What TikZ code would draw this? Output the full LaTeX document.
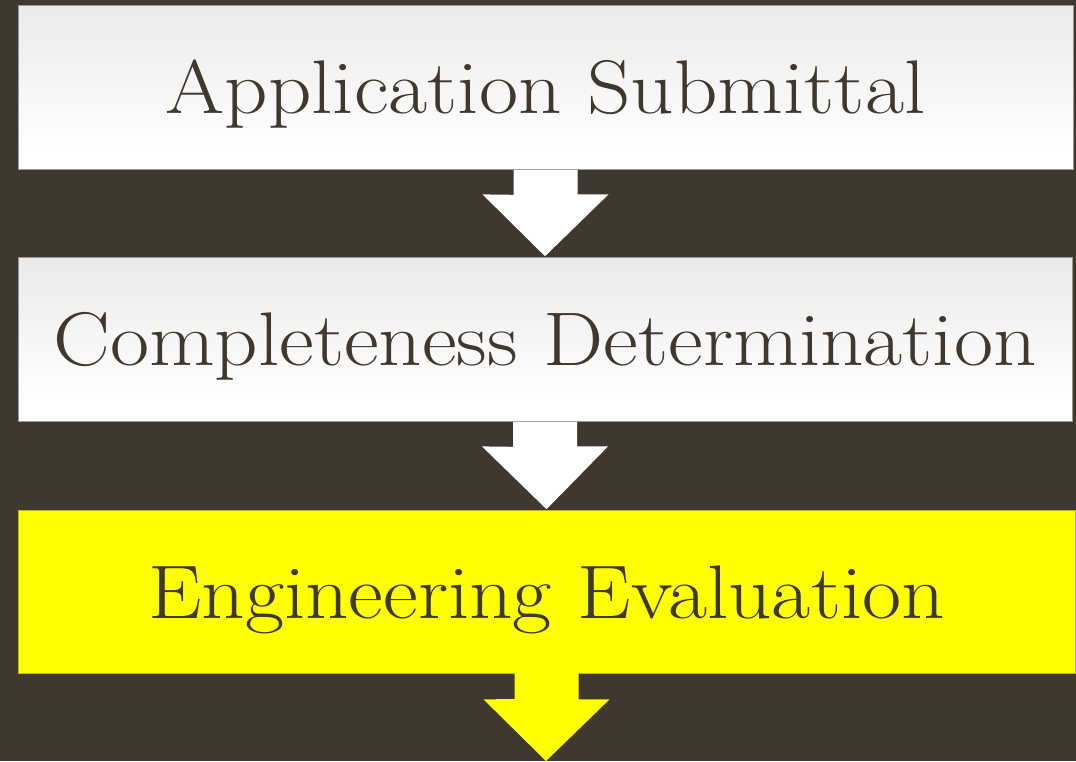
\documentclass[tikz,border=0pt]{standalone}
\usetikzlibrary{calc}
\definecolor{bgbrown}{HTML}{3E3830}
\definecolor{boxedge}{HTML}{9A9A9A}
\definecolor{yedge}{HTML}{B8B800}
\definecolor{pureyellow}{RGB}{255,255,0}
\pgfdeclareverticalshading{boxshade}{100bp}{color(0bp)=(white); color(30bp)=(white); color(100bp)=(black!13)}
\newcommand{\wide}[1]{\scalebox{1.12}[1]{#1}}
\begin{document}
\begin{tikzpicture}[x=1pt,y=-1pt,
  flowbox/.style={draw=boxedge, line width=0.8pt, minimum height=164pt, inner sep=0pt,
    text=bgbrown, font=\fontsize{76}{82}\selectfont, text height=53pt, text depth=0pt},
  whitebox/.style={flowbox, shading=boxshade},
  yellowbox/.style={flowbox, fill=pureyellow, draw=yedge},
  whitearrow/.style={fill=white},
  yellowarrow/.style={fill=pureyellow}]
\fill[bgbrown] (0,0) rectangle (1076,761);
\useasboundingbox (0,0) rectangle (1076,761);
\node[whitebox, minimum width=1055pt] (a) at (545.5,87) {\wide{Application Submittal}};
\node[whitebox, minimum width=1054pt] (b) at (545,339) {\wide{Completeness Determination}};
\node[yellowbox, minimum width=1057pt, minimum height=163pt] (c) at (546.5,591.5) {\wide{Engineering Evaluation}};
\coordinate (end) at (546,761);
\fill[whitearrow] ($(a.south)+(-32,0.4)$) -- ++(0,25) -- ($(a.south)+(-63,25)$) -- ($(b.north)+(0,-0.4)$)
  -- ($(a.south)+(63,25)$) -- ($(a.south)+(32,25)$) -- ($(a.south)+(32,0.4)$) -- cycle;
\fill[whitearrow] ($(b.south)+(-32,0.4)$) -- ++(0,25) -- ($(b.south)+(-63,25)$) -- ($(c.north)+(0,-0.4)$)
  -- ($(b.south)+(63,25)$) -- ($(b.south)+(32,25)$) -- ($(b.south)+(32,0.4)$) -- cycle;
\fill[yellowarrow] ($(c.south)+(-32,-0.4)$) -- ++(0,26) -- ($(c.south)+(-63,26)$) -- (end)
  -- ($(c.south)+(63,26)$) -- ($(c.south)+(32,26)$) -- ($(c.south)+(32,-0.4)$) -- cycle;
\end{tikzpicture}
\end{document}
